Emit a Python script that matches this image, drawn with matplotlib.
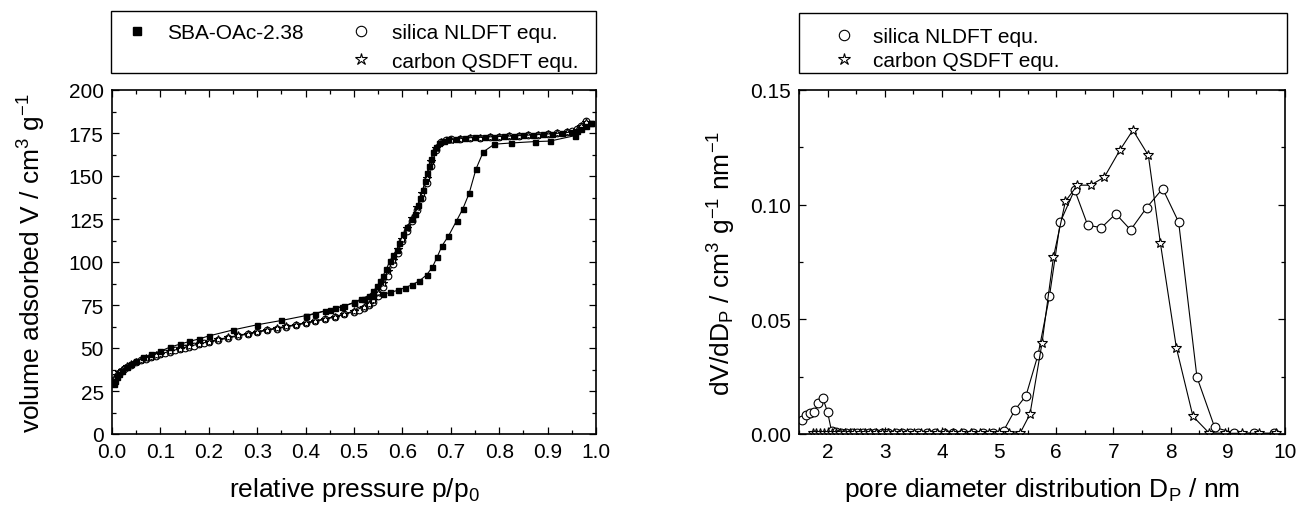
import matplotlib
matplotlib.use("Agg")
import matplotlib.pyplot as plt
from matplotlib.lines import Line2D
from matplotlib.patches import Rectangle
from matplotlib.ticker import MultipleLocator, FormatStrFormatter

plt.rcParams.update({
    "font.family": ["Liberation Sans", "DejaVu Sans"],
    "mathtext.fontset": "custom",
    "mathtext.rm": "Liberation Sans",
    "mathtext.it": "Liberation Sans:italic",
    "mathtext.bf": "Liberation Sans:bold",
    "mathtext.default": "regular",
})

# ---- isotherm, SBA-OAc-2.38 (adsorption / desorption branch) ----
ads_p = [0.004, 0.007, 0.01, 0.015, 0.02, 0.03, 0.04, 0.05, 0.065, 0.08, 0.1, 0.12, 0.14,
         0.16, 0.18, 0.2, 0.25, 0.3, 0.35, 0.4, 0.45, 0.475, 0.5, 0.52, 0.54, 0.56, 0.575,
         0.59, 0.605, 0.62, 0.635, 0.65, 0.662, 0.672, 0.682, 0.695, 0.712, 0.725, 0.738,
         0.752, 0.767, 0.79, 0.825, 0.873, 0.905, 0.957, 0.99]
ads_v = [29, 31, 33, 35, 36.8, 39, 40.8, 42.3, 44.5, 46.3, 48.2, 50.5, 52.2,
         53.8, 55.3, 57, 60.5, 63.5, 66, 68.8, 72.3, 74, 76.3, 78.5, 80.3, 81.3, 82.3,
         83.5, 85, 86.8, 89, 92.5, 97, 103, 109.5, 115, 124, 131, 140,
         154, 164, 168.5, 169.2, 170, 170.3, 173.5, 181]
des_p = [0.99, 0.98, 0.97, 0.96, 0.95, 0.93, 0.91, 0.89, 0.87, 0.85, 0.83, 0.81, 0.79, 0.77,
         0.75, 0.73, 0.71, 0.695, 0.685, 0.676, 0.669, 0.664, 0.659, 0.655, 0.651, 0.647,
         0.642, 0.637, 0.632, 0.626, 0.619, 0.61, 0.601, 0.594, 0.588, 0.581, 0.574, 0.567,
         0.56, 0.554, 0.548, 0.54, 0.53, 0.515, 0.5, 0.48, 0.46, 0.44, 0.42, 0.4]
des_v = [181, 179, 177.5, 176.3, 175.6, 175, 174.6, 174.2, 173.9, 173.6, 173.3, 173.1, 172.9, 172.6,
         172.4, 172.1, 171.8, 171.3, 170.5, 169, 167, 164, 160, 156, 152, 147,
         142, 137, 133, 128, 125, 120.5, 116, 111, 107, 104, 100.5, 96,
         92, 89, 86, 83, 80.5, 78.5, 76.5, 74.5, 73, 71.5, 70, 68.5]

# ---- fitted isotherms ----
nldft_p = [0.005, 0.01, 0.015, 0.02, 0.025, 0.03, 0.04, 0.05, 0.06, 0.07, 0.08, 0.09, 0.10,
           0.11, 0.12, 0.13, 0.14, 0.15, 0.16, 0.17, 0.18, 0.19, 0.20, 0.22, 0.24, 0.26, 0.28,
           0.30, 0.32, 0.34, 0.36, 0.38, 0.40, 0.42, 0.44, 0.46, 0.48, 0.50, 0.51, 0.52, 0.53,
           0.54, 0.55, 0.56, 0.57, 0.58, 0.59, 0.60, 0.61, 0.62, 0.63, 0.64, 0.65, 0.66, 0.67,
           0.68, 0.69, 0.70, 0.72, 0.74, 0.76, 0.78, 0.80, 0.82, 0.84, 0.86, 0.88, 0.90, 0.92,
           0.94, 0.95, 0.96, 0.97, 0.98]
nldft_v = [31.5, 33.8, 35.5, 36.8, 37.9, 38.9, 40.4, 41.7, 42.8, 43.8, 44.7, 45.5, 46.3,
           47.1, 47.8, 48.6, 49.3, 50.0, 50.7, 51.4, 52.1, 52.7, 53.4, 54.6, 55.8, 57.0, 58.1,
           59.2, 60.3, 61.3, 62.3, 63.3, 64.4, 65.5, 66.7, 68.0, 69.5, 71.2, 72.2, 73.4, 74.8,
           76.8, 80.0, 85.5, 92, 99, 105.5, 112, 118, 124, 130, 137.5, 146, 156, 165,
           169.5, 170.8, 171.3, 171.7, 172.0, 172.3, 172.6, 172.9, 173.2, 173.5, 173.8, 174.1, 174.5, 175.0,
           175.7, 176.3, 177.3, 179, 181.8]
qsdft_p = [0.005, 0.01, 0.015, 0.02, 0.03, 0.04, 0.05, 0.06, 0.07, 0.08, 0.09, 0.10, 0.12,
           0.14, 0.16, 0.18, 0.20, 0.22, 0.24, 0.26, 0.28, 0.30, 0.32, 0.34, 0.36, 0.38, 0.40,
           0.42, 0.44, 0.46, 0.48, 0.50, 0.52, 0.53, 0.54, 0.55, 0.56, 0.57, 0.58, 0.59, 0.60,
           0.61, 0.62, 0.63, 0.64, 0.65, 0.66, 0.67, 0.68, 0.70, 0.72, 0.74, 0.76, 0.78, 0.80,
           0.82, 0.84, 0.86, 0.88, 0.90, 0.92, 0.94, 0.96, 0.97, 0.98]
qsdft_v = [32.0, 34.3, 35.9, 37.2, 39.3, 40.8, 42.0, 43.1, 44.1, 45.0, 45.8, 46.6, 48.1,
           49.6, 51.0, 52.4, 53.7, 55.0, 56.2, 57.3, 58.4, 59.5, 60.6, 61.6, 62.6, 63.6, 64.7,
           65.8, 67.0, 68.3, 69.8, 71.5, 74.0, 75.6, 78.0, 82.0, 88.0, 94.5, 101, 107.5, 113.5,
           119.5, 125.5, 132, 140, 149, 159, 166.5, 170, 171.2, 171.6, 171.9, 172.2, 172.5, 172.8,
           173.1, 173.4, 173.7, 174.0, 174.4, 174.9, 175.6, 177.0, 178.8, 181.5]

# ---- pore size distributions ----
silica_d = [1.55, 1.62, 1.69, 1.76, 1.84, 1.92, 2.00, 2.07, 2.15, 2.24, 2.33, 2.42, 2.52,
            2.62, 2.72, 2.83, 2.95, 3.06, 3.19, 3.31, 3.45, 3.58, 3.73, 3.88, 4.03, 4.19,
            4.36, 4.54, 4.72, 4.90, 5.08, 5.28, 5.47, 5.68, 5.88, 6.07, 6.32, 6.55, 6.79,
            7.04, 7.30, 7.58, 7.86, 8.14, 8.46, 8.77, 9.10, 9.45, 9.80]
silica_psd = [0.006, 0.0085, 0.009, 0.0095, 0.0135, 0.0155, 0.0095, 0.0012, 0.0008, 0.0006, 0.0005, 0.0005, 0.0005,
              0.0005, 0.0005, 0.0005, 0.0005, 0.0005, 0.0005, 0.0005, 0.0005, 0.0005, 0.0005, 0.0005, 0.0005, 0.0005,
              0.0005, 0.0005, 0.0005, 0.0005, 0.0015, 0.0106, 0.0167, 0.0345, 0.060, 0.0924, 0.1065, 0.091, 0.090,
              0.096, 0.089, 0.0987, 0.107, 0.0924, 0.0248, 0.0029, 0.0005, 0.0003, 0.0003]
carbon_d = [1.74, 1.80, 1.86, 1.93, 2.00, 2.07, 2.15, 2.22, 2.30, 2.39, 2.47, 2.56, 2.65,
            2.75, 2.85, 2.95, 3.05, 3.16, 3.28, 3.39, 3.52, 3.64, 3.77, 3.91, 4.05, 4.19,
            4.34, 4.50, 4.66, 4.83, 5.00, 5.18, 5.37, 5.54, 5.75, 5.95, 6.16, 6.37, 6.60,
            6.84, 7.11, 7.34, 7.61, 7.82, 8.10, 8.39, 8.67, 8.95, 9.25, 9.55, 9.85]
carbon_psd = [0.0003, 0.0003, 0.0003, 0.0003, 0.0004, 0.0004, 0.0003, 0.0003, 0.0003, 0.0003, 0.0003, 0.0003, 0.0003,
              0.0003, 0.0003, 0.0003, 0.0003, 0.0003, 0.0003, 0.0003, 0.0003, 0.0003, 0.0003, 0.0003, 0.0003, 0.0003,
              0.0003, 0.0003, 0.0003, 0.0003, 0.0003, 0.0003, 0.0005, 0.0087, 0.0396, 0.0771, 0.1015, 0.1085, 0.1085,
              0.112, 0.1237, 0.1325, 0.1215, 0.0833, 0.0376, 0.0077, 0.0005, 0.0003, 0.0003, 0.0003, 0.0003]

W, H = 1296, 506
fig = plt.figure(figsize=(W / 100, H / 100), dpi=100)
ax1 = fig.add_axes([112 / W, 71 / H, 484 / W, 344 / H])
ax2 = fig.add_axes([799 / W, 71 / H, 486 / W, 344 / H])

line_kw = dict(color="k", lw=0.8)
open_kw = dict(mfc="white", mec="k", mew=0.8)

# isotherm
ax1.plot(nldft_p, nldft_v, marker="o", ms=4.8, **line_kw, **open_kw)
ax1.plot(qsdft_p, qsdft_v, marker="*", ms=6.0, **line_kw, **open_kw)
ax1.plot(ads_p, ads_v, marker="s", ms=3.6, mfc="k", mec="k", **line_kw)
ax1.plot(des_p, des_v, marker="s", ms=3.6, mfc="k", mec="k", **line_kw)

ax1.set_xlim(0, 1.0)
ax1.set_ylim(0, 200)
ax1.xaxis.set_major_locator(MultipleLocator(0.1))
ax1.xaxis.set_minor_locator(MultipleLocator(0.05))
ax1.xaxis.set_major_formatter(FormatStrFormatter("%.1f"))
ax1.yaxis.set_major_locator(MultipleLocator(25))
ax1.yaxis.set_minor_locator(MultipleLocator(12.5))
ax1.set_xlabel(r"relative pressure p/p$_{0}$", fontsize=19, va="baseline")
ax1.set_ylabel(r"volume adsorbed V / cm$^{3}$ g$^{-1}$", fontsize=19)
ax1.xaxis.set_label_coords(0.5, -0.180)
ax1.yaxis.set_label_coords(-0.132, 0.5)

# pore size distribution
ax2.plot(silica_d, silica_psd, marker="o", ms=6.3, **line_kw, **open_kw)
ax2.plot(carbon_d, carbon_psd, marker="*", ms=7.5, **line_kw, **open_kw)

ax2.set_xlim(1.5, 10)
ax2.set_ylim(0, 0.15)
ax2.xaxis.set_major_locator(MultipleLocator(1))
ax2.xaxis.set_minor_locator(MultipleLocator(0.5))
ax2.yaxis.set_major_locator(MultipleLocator(0.05))
ax2.yaxis.set_minor_locator(MultipleLocator(0.025))
ax2.yaxis.set_major_formatter(FormatStrFormatter("%.2f"))
ax2.set_xlabel(r"pore diameter distribution D$_{P}$ / nm", fontsize=19, va="baseline")
ax2.set_ylabel(r"dV/dD$_{P}$ / cm$^{3}$ g$^{-1}$ nm$^{-1}$", fontsize=19)
ax2.xaxis.set_label_coords(0.5, -0.180)
ax2.yaxis.set_label_coords(-0.1255, 0.5)

for ax in (ax1, ax2):
    ax.tick_params(which="both", direction="in", top=True, right=True,
                   labelsize=15, width=0.9, pad=6)
    ax.tick_params(which="major", length=4.8)
    ax.tick_params(which="minor", length=2.9)
    for sp in ax.spines.values():
        sp.set_linewidth(1.2)

# legends: frameless, with a plain box drawn behind each
sq_h = Line2D([], [], ls="none", marker="s", ms=6, mfc="k", mec="k")
blank_h = Line2D([], [], ls="none")
circ_h = Line2D([], [], ls="none", marker="o", ms=7.5, **open_kw)
star_h = Line2D([], [], ls="none", marker="*", ms=9, **open_kw)

leg_kw = dict(loc="center left", bbox_transform=fig.transFigure, frameon=False,
              fontsize=15, borderpad=0, borderaxespad=0, handlelength=1.5)

ax1.legend([sq_h, blank_h, circ_h, star_h],
           ["SBA-OAc-2.38", "", "silica NLDFT equ.", "carbon QSDFT equ."],
           ncol=2, bbox_to_anchor=(120.9 / W, 1 - 48 / H),
           labelspacing=0.44, handletextpad=0.71, columnspacing=2.03, **leg_kw)
ax2.legend([circ_h, star_h], ["silica NLDFT equ.", "carbon QSDFT equ."],
           bbox_to_anchor=(828.4 / W, 1 - 49.5 / H),
           labelspacing=0.26, handletextpad=0.66, **leg_kw)

fig.add_artist(Rectangle((111 / W, 1 - 73.5 / H), 485 / W, 61.5 / H,
                         transform=fig.transFigure, fill=False, ec="k", lw=1.0))
fig.add_artist(Rectangle((799 / W, 1 - 74 / H), 488 / W, 60 / H,
                         transform=fig.transFigure, fill=False, ec="k", lw=1.0))

fig.savefig("out.png", dpi=100)
